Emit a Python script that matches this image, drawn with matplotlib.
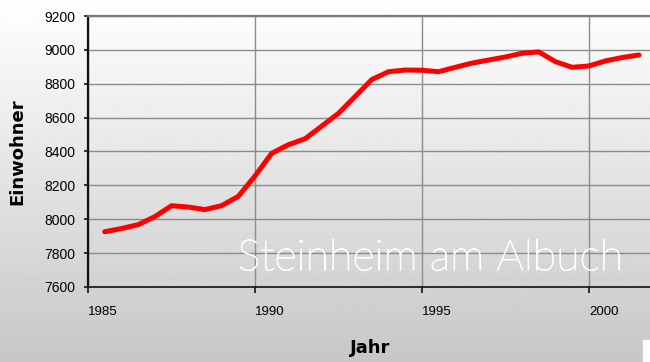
import numpy as np
import matplotlib
matplotlib.use("Agg")
import matplotlib.pyplot as plt
import matplotlib.patheffects as pe
from matplotlib.patches import Rectangle

# Einwohnerzahlen Steinheim am Albuch (halbjährlich)
years = [1985.5, 1986.0, 1986.5, 1987.0, 1987.5, 1988.0, 1988.5, 1989.0,
         1989.5, 1990.0, 1990.5, 1991.0, 1991.5, 1992.0, 1992.5, 1993.0,
         1993.5, 1994.0, 1994.5, 1995.0, 1995.5, 1996.0, 1996.5, 1997.0,
         1997.5, 1998.0, 1998.5, 1999.0, 1999.5, 2000.0, 2000.5, 2001.0,
         2001.5]
einwohner = [7926, 7945, 7968, 8015, 8080, 8072, 8057, 8080,
             8135, 8255, 8389, 8440, 8475, 8550, 8625, 8725,
             8825, 8871, 8881, 8880, 8871, 8897, 8922, 8940,
             8958, 8980, 8988, 8930, 8897, 8905, 8935, 8955,
             8970]
x_ticks = [1985, 1990, 1995, 2000]
y_ticks = list(range(7600, 9201, 200))

plt.rcParams['font.family'] = ['Liberation Sans', 'DejaVu Sans']

fig = plt.figure(figsize=(6.5, 3.62), dpi=100)

# vertical grey gradient behind everything
bg = fig.add_axes([0, 0, 1, 1], zorder=-1)
grad = np.linspace(1.0, 0.78, 256).reshape(-1, 1)
bg.imshow(grad, cmap='gray', vmin=0, vmax=1, aspect='auto',
          extent=[0, 1, 0, 1], origin='upper')
bg.set_axis_off()

ax = fig.add_axes([0.1354, 0.2072, 0.8646, 0.7486])
ax.set_facecolor('none')

ax.plot(years, einwohner, color='#ff0000', lw=3.6,
        solid_joinstyle='round', solid_capstyle='round', zorder=3)

ax.set_xlim(1985, 2001.83)
ax.set_ylim(7600, 9200)
ax.set_xticks(x_ticks)
ax.set_yticks(y_ticks)
ax.grid(True, color='#8c8c8c', lw=1.0)

ax.spines['right'].set_visible(False)
ax.spines['top'].set_color('#7a7a7a')
ax.spines['top'].set_linewidth(1.6)
ax.spines['left'].set_color('#111111')
ax.spines['left'].set_linewidth(1.6)
ax.spines['bottom'].set_color('#111111')
ax.spines['bottom'].set_linewidth(1.2)

ax.tick_params(axis='y', direction='out', length=3, width=1.2,
               color='#111111', labelsize=10, pad=6)
ax.tick_params(axis='x', direction='out', length=4, width=1.2,
               color='#111111', labelsize=9.5, pad=10)
for lbl in ax.get_xticklabels():
    lbl.set_horizontalalignment('left')

fig.text(17 / 650, 0.58, 'Einwohner', rotation=90, fontsize=13,
         fontweight='bold', family=['DejaVu Sans'], ha='center', va='center')
fig.text(0.569, 0.04, 'Jahr', fontsize=13, fontweight='bold',
         family=['DejaVu Sans'], ha='center', va='center')

# thin white place name across the lower plot area
ax.text(0.266, 0.062, 'Steinheim am Albuch', transform=ax.transAxes,
        color='white', fontsize=31, family=['Lato', 'DejaVu Sans'],
        fontweight='light', ha='left', va='baseline', zorder=4,
        path_effects=[pe.withStroke(linewidth=0.7, foreground='white')])

fig.patches.append(Rectangle((643 / 650, 0), 7 / 650, 22 / 362,
                             transform=fig.transFigure, color='white'))

fig.savefig('out.png', dpi=100)
